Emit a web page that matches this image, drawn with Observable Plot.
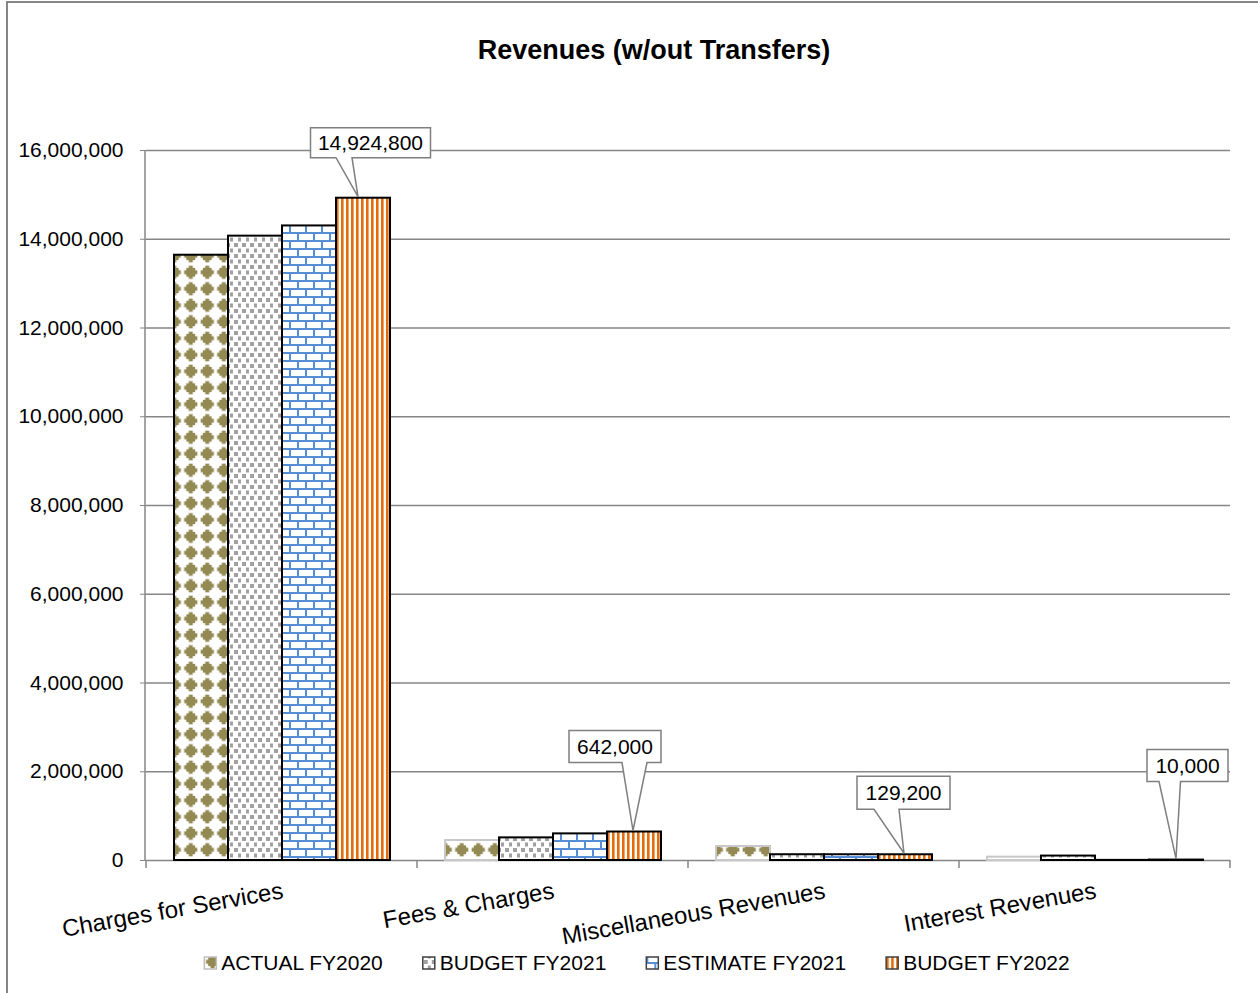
<!DOCTYPE html>
<html><head><meta charset="utf-8">
<script src="https://cdn.jsdelivr.net/npm/d3@7"></script>
<script src="https://cdn.jsdelivr.net/npm/@observablehq/plot@0.6"></script>
<style>
body{margin:0;background:#fff;}
#chart svg{display:block;font-family:"Liberation Sans",Arial,sans-serif;}
</style>
</head><body><div id="chart"></div>
<script>
// ---- data ----
const title = "Revenues (w/out Transfers)";
const categories = ["Charges for Services", "Fees & Charges", "Miscellaneous Revenues", "Interest Revenues"];
const series = ["ACTUAL FY2020", "BUDGET FY2021", "ESTIMATE FY2021", "BUDGET FY2022"];
const actualFY2020 = [13640000, 450000, 315000, 75000];
const budgetFY2021 = [14070000, 510000, 130000, 100000];
const estimateFY2021 = [14300000, 600000, 130000, 3000];
const budgetFY2022 = [14924800, 642000, 129200, 10000];
const yTicks = [0, 2000000, 4000000, 6000000, 8000000, 10000000, 12000000, 14000000, 16000000];

const seriesValues = [actualFY2020, budgetFY2021, estimateFY2021, budgetFY2022];
const rows = [];
categories.forEach((c, i) => series.forEach((s, j) => rows.push({category: c, series: s, value: seriesValues[j][i]})));

const patIds = ["pat0", "pat1", "pat2", "pat3"];
const grid = "#868686";
const font = "Liberation Sans, Arial, sans-serif";

const plot = Plot.plot({
  width: 1258, height: 993,
  marginLeft: 145, marginRight: 28, marginTop: 150, marginBottom: 133,
  style: {fontFamily: font, background: "white", overflow: "visible", color: "#000"},
  fx: {domain: categories, padding: 0, axis: null, label: null},
  x: {domain: series, paddingInner: 0, paddingOuter: 0.5, axis: null},
  y: {domain: [0, 16000000], axis: null},
  marks: [
    Plot.gridY(yTicks, {stroke: grid, strokeOpacity: 1, strokeWidth: 1.5}),
    ...series.map((s, j) => Plot.barY(rows.filter(r => r.series === s), {
      fx: "category", x: "series", y: "value",
      fill: `url(#${patIds[j]})`,
      stroke: j === 0 ? (d => d.category === categories[0] ? "#000000" : "#c8c8c8") : "#000000",
      strokeWidth: 2
    })),
    Plot.axisY(yTicks, {tickSize: 6, stroke: grid, tickPadding: 17, fontSize: 21, tickFormat: d3.format(","), label: null}),
    Plot.text(categories, {fx: d => d, text: d => d, frameAnchor: "bottom", rotate: -10, textAnchor: "end", lineAnchor: "middle", dy: 30, dx: 1, fontSize: 24, fill: "#000"})
  ]
});
document.getElementById("chart").appendChild(plot);

// ---- decorations drawn with the plot's scales ----
const svg = d3.select(plot);
const defs = svg.insert("defs", ":first-child");
// ACTUAL: olive stepped diamonds on a square grid
{
  const T = 16.5;
  const p = defs.append("pattern").attr("id", "pat0").attr("patternUnits", "userSpaceOnUse").attr("width", T).attr("height", T);
  p.append("rect").attr("width", T).attr("height", T).attr("fill", "#fff");
  const col = "#938953";
  const cx = T / 2, cy = T / 2;
  p.append("rect").attr("x", cx - 2).attr("y", cy - 6.6).attr("width", 4).attr("height", 13.2).attr("fill", col);
  p.append("rect").attr("x", cx - 4.4).attr("y", cy - 4.4).attr("width", 8.8).attr("height", 8.8).attr("fill", col);
  p.append("rect").attr("x", cx - 6.6).attr("y", cy - 2).attr("width", 13.2).attr("height", 4).attr("fill", col);
}
// BUDGET FY2021: gray confetti squares
{
  const p = defs.append("pattern").attr("id", "pat1").attr("patternUnits", "userSpaceOnUse").attr("width", 8).attr("height", 11);
  p.append("rect").attr("width", 8).attr("height", 11).attr("fill", "#fff");
  [[1, 1], [5, 6.5]].forEach(([x, y]) => p.append("rect").attr("x", x).attr("y", y).attr("width", 4).attr("height", 4).attr("fill", "#a0a0a0"));
}
// ESTIMATE FY2021: blue bricks
{
  const p = defs.append("pattern").attr("id", "pat2").attr("patternUnits", "userSpaceOnUse").attr("width", 16).attr("height", 16);
  p.append("rect").attr("width", 16).attr("height", 16).attr("fill", "#fff");
  const col = "#558ed5";
  p.append("rect").attr("x", 0).attr("y", 0).attr("width", 16).attr("height", 2).attr("fill", col);
  p.append("rect").attr("x", 0).attr("y", 8).attr("width", 16).attr("height", 2).attr("fill", col);
  p.append("rect").attr("x", 0).attr("y", 0).attr("width", 2).attr("height", 8).attr("fill", col);
  p.append("rect").attr("x", 8).attr("y", 8).attr("width", 2).attr("height", 8).attr("fill", col);
}
// BUDGET FY2022: orange vertical stripes
{
  const p = defs.append("pattern").attr("id", "pat3").attr("patternUnits", "userSpaceOnUse").attr("width", 5).attr("height", 5);
  p.append("rect").attr("width", 5).attr("height", 5).attr("fill", "#fff");
  p.append("rect").attr("x", 0).attr("width", 2.6).attr("height", 5).attr("fill", "#e46c0a");
}

const W = 1258;
const yS = plot.scale("y");
const fxS = plot.scale("fx");
const [y0, y1] = [yS.apply(0), yS.apply(16000000)];

// outer chart frame
svg.append("rect").attr("x", 7).attr("y", 2).attr("width", W + 20).attr("height", 1100)
  .attr("fill", "none").attr("stroke", grid).attr("stroke-width", 2);

// y axis line
svg.append("line").attr("x1", 145).attr("x2", 145).attr("y1", y1).attr("y2", y0)
  .attr("stroke", grid).attr("stroke-width", 1.5);
// category boundary ticks
const bw = fxS.bandwidth;
const bounds = categories.map(c => fxS.apply(c)).concat([fxS.apply(categories[categories.length - 1]) + bw]);
bounds.forEach(x => svg.append("line").attr("x1", x).attr("x2", x).attr("y1", y0).attr("y2", y0 + 8)
  .attr("stroke", grid).attr("stroke-width", 1.5));

// title
svg.append("text").attr("x", 654).attr("y", 59).attr("text-anchor", "middle")
  .attr("font-family", font).attr("font-weight", "bold").attr("font-size", 27).attr("fill", "#000").text(title);

// callouts on BUDGET FY2022 bars
const svgBox = plot.getBoundingClientRect();
const lastRects = plot.querySelectorAll('g[fill="url(#pat3)"] rect');
// [left, right, top, bottom, pointerBaseLeft, pointerBaseRight, tipDx] relative to bar top centre
const calloutLayout = [
  [-52.5, 67.5, -70, -40, -27, -11, -5],
  [-65, 27, -101, -69, -12, 13, -1],
  [-48, 45, -78, -45, -31, -6, -1],
  [-29, 52, -110, -78, -17, 4.5, 0]
];
const fmt = d3.format(",");
const callG = svg.append("g");
lastRects.forEach((r, i) => {
  const b = r.getBoundingClientRect();
  const cx = b.left - svgBox.left + b.width / 2;
  const top = yS.apply(budgetFY2022[i]);
  const [l, rr, t, bt, pl, pr, tdx] = calloutLayout[i];
  const pts = [[cx + l, top + t], [cx + rr, top + t], [cx + rr, top + bt], [cx + pr, top + bt], [cx + tdx, top - 1], [cx + pl, top + bt], [cx + l, top + bt]];
  callG.append("path").attr("d", "M" + pts.map(p => p.join(",")).join("L") + "Z")
    .attr("fill", "#fff").attr("stroke", "#7f7f7f").attr("stroke-width", 1.5);
  callG.append("text").attr("x", cx + (l + rr) / 2).attr("y", top + (t + bt) / 2).attr("dy", "0.36em")
    .attr("text-anchor", "middle").attr("font-family", font).attr("font-size", 21).attr("fill", "#000")
    .text(fmt(budgetFY2022[i]));
});

// legend
const lg = svg.append("g");
const items = series.map((s, j) => {
  const g = lg.append("g");
  g.append("rect").attr("x", 0).attr("y", -13).attr("width", 12).attr("height", 12)
    .attr("fill", `url(#${patIds[j]})`).attr("stroke", j === 0 ? "#bfbfbf" : "#404040").attr("stroke-width", 1.5);
  const t = g.append("text").attr("x", 17).attr("y", 0).attr("text-anchor", "start")
    .attr("font-family", font).attr("font-size", 21).attr("fill", "#000").text(s);
  return {g, w: 17 + t.node().getComputedTextLength()};
});
const gap = 40;
const total = d3.sum(items, d => d.w) + gap * (items.length - 1);
let lx = 637 - total / 2;
items.forEach(it => { it.g.attr("transform", `translate(${lx},970)`); lx += it.w + gap; });
</script>
</body></html>
